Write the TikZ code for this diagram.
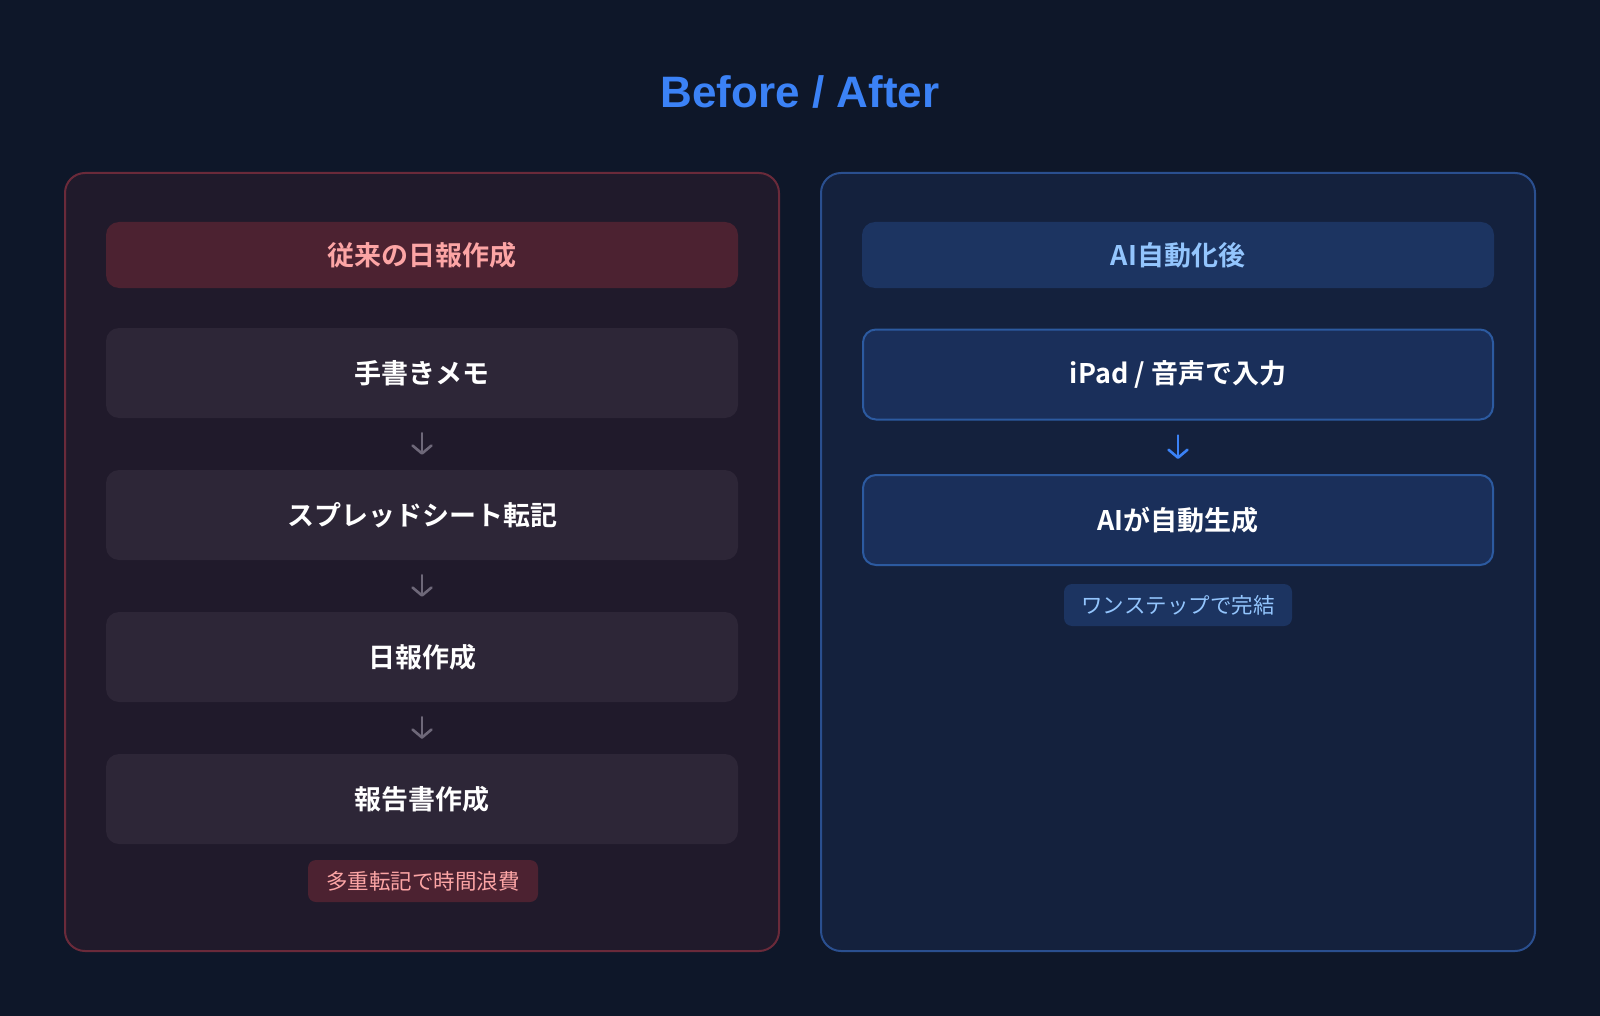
\documentclass[tikz,border=0pt]{standalone}
\usepackage{fontspec}
\setmainfont{Noto Sans CJK JP}[BoldFont={Noto Sans CJK JP Bold}]
\newfontfamily\titlefont{Liberation Sans}
\usetikzlibrary{arrows.meta}
\definecolor{bg}{HTML}{0E1729}
\definecolor{lpanel}{HTML}{201A2B}
\definecolor{lborder}{HTML}{6A2A3A}
\definecolor{lhead}{HTML}{4C2231}
\definecolor{ltext}{HTML}{FCA5A5}
\definecolor{lbox}{HTML}{2D2637}
\definecolor{larrow}{HTML}{6E6879}
\definecolor{rpanel}{HTML}{14213D}
\definecolor{rborder}{HTML}{2A4F8F}
\definecolor{rhead}{HTML}{1C3461}
\definecolor{rtext}{HTML}{93C5FD}
\definecolor{rbox}{HTML}{1A2F5A}
\definecolor{rboxborder}{HTML}{2C5AA0}
\definecolor{titleblue}{HTML}{3B82F6}
\tikzset{
  panel/.style={rounded corners=20pt, line width=2pt},
  headbox/.style={rectangle, rounded corners=13pt, minimum width=632pt, minimum height=66pt, inner sep=0pt, font=\fontsize{27}{32}\selectfont\bfseries},
  stepbox/.style={rectangle, rounded corners=13pt, minimum width=632pt, minimum height=90pt, inner sep=0pt, text=white, font=\fontsize{27}{32}\selectfont\bfseries},
  tagbox/.style={rectangle, rounded corners=8pt, minimum height=42pt, inner sep=0pt, font=\fontsize{21.5}{26}\selectfont},
  flow/.style={line width=2.6pt, line cap=round, shorten >=15pt, shorten <=15pt, -{Straight Barb[length=8pt,width=19pt,line cap=round,line join=round]}}
}
\begin{document}
\begin{tikzpicture}[x=1pt,y=-1pt]
\fill[bg] (0,0) rectangle (1600,1016);
\useasboundingbox (0,0) rectangle (1600,1016);
\node[text=titleblue, font=\titlefont\fontsize{44}{52}\selectfont\bfseries] (title) at (800,92) {Before / After};
% left panel
\draw[panel, fill=lpanel, draw=lborder] (65,173) rectangle (779,951);
\node[headbox, fill=lhead, text=ltext] (lh) at (422,255) {従来の日報作成};
\node[stepbox, fill=lbox] (l1) at (422,373) {手書きメモ};
\node[stepbox, fill=lbox] (l2) at (422,515) {スプレッドシート転記};
\node[stepbox, fill=lbox] (l3) at (422,657) {日報作成};
\node[stepbox, fill=lbox] (l4) at (422,799) {報告書作成};
\draw[flow, draw=larrow] (l1) -- (l2);
\draw[flow, draw=larrow] (l2) -- (l3);
\draw[flow, draw=larrow] (l3) -- (l4);
\node[tagbox, fill=lhead, text=ltext, minimum width=230pt] (ltag) at (423,881) {多重転記で時間浪費};
% right panel
\draw[panel, fill=rpanel, draw=rborder] (821,173) rectangle (1535,951);
\node[headbox, fill=rhead, text=rtext] (rh) at (1178,255) {AI自動化後};
\node[stepbox, fill=rbox, draw=rboxborder, line width=2pt, minimum width=630pt] (r1) at (1178,374.5) {iPad / 音声で入力};
\node[stepbox, fill=rbox, draw=rboxborder, line width=2pt, minimum width=630pt] (r2) at (1178,520) {AIが自動生成};
\draw[flow, draw=titleblue] (r1) -- (r2);
\node[tagbox, fill=rhead, text=rtext, minimum width=228pt] (rtag) at (1178,605) {ワンステップで完結};
\end{tikzpicture}
\end{document}
